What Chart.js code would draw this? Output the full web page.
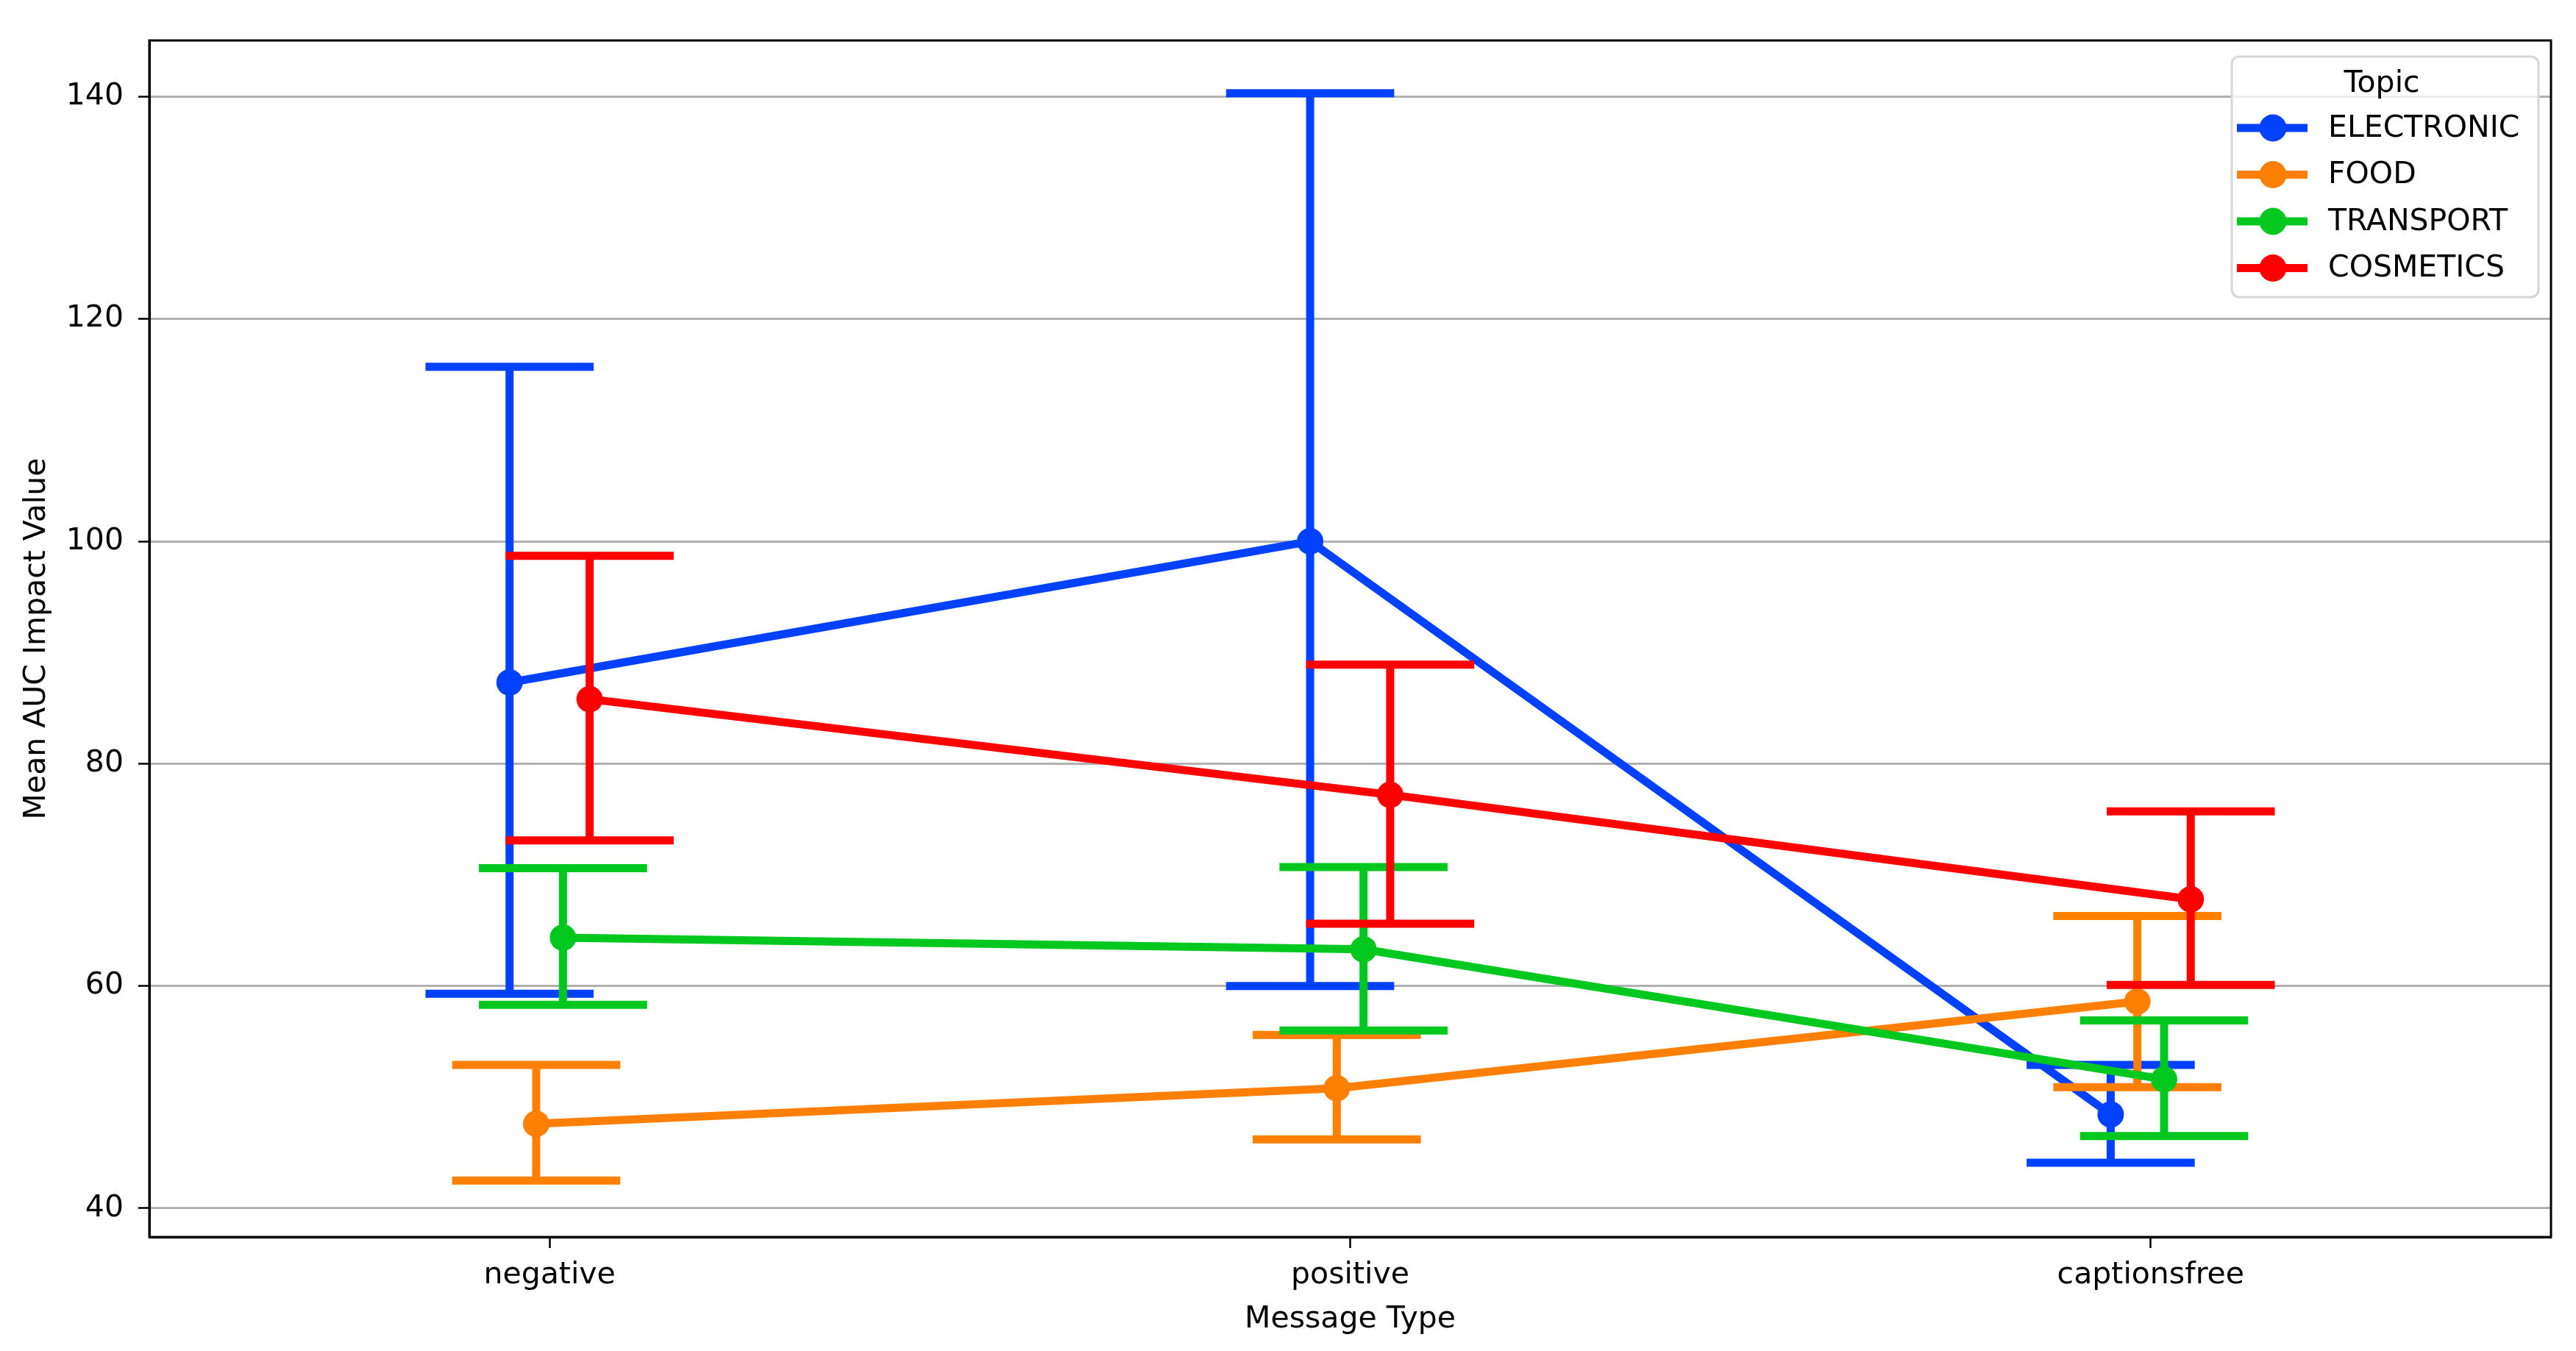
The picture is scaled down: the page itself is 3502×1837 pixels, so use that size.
<!DOCTYPE html>
<html>
<head>
<meta charset="utf-8">
<script src="https://cdn.jsdelivr.net/npm/chart.js@4.4.1/dist/chart.umd.min.js"></script>
<style>
  html, body { margin: 0; padding: 0; background: #fff; }
  canvas { display: block; }
</style>
</head>
<body>
<canvas id="chart" width="3502" height="1837"></canvas>
<script>
// --- Data ---
const categories = ['negative', 'positive', 'captionsfree'];
const topics = ['ELECTRONIC', 'FOOD', 'TRANSPORT', 'COSMETICS'];
const yTicks = [40, 60, 80, 100, 120, 140];

const electronicMean = [87.3, 100.0, 48.45];
const electronicLow = [59.3, 60.0, 44.1];
const electronicHigh = [115.7, 140.3, 52.9];

const foodMean = [47.6, 50.8, 58.6];
const foodLow = [42.5, 46.2, 50.9];
const foodHigh = [52.9, 55.6, 66.3];

const transportMean = [64.35, 63.3, 51.6];
const transportLow = [58.3, 56.0, 46.5];
const transportHigh = [70.6, 70.7, 56.9];

const cosmeticsMean = [85.8, 77.2, 67.8];
const cosmeticsLow = [73.1, 65.6, 60.1];
const cosmeticsHigh = [98.7, 88.9, 75.7];

// --- Styling ---
const COLORS = ['#0040ff', '#ff7f00', '#00c81e', '#ff0000'];
const DODGE = [-0.05, -0.0167, 0.0167, 0.05];
const CAP_HALF = 0.105;
const LINE_W = 11;
const FONT = { family: 'DejaVu Sans', size: 41 };

const means = [electronicMean, foodMean, transportMean, cosmeticsMean];
const lows = [electronicLow, foodLow, transportLow, cosmeticsLow];
const highs = [electronicHigh, foodHigh, transportHigh, cosmeticsHigh];

const datasets = topics.map((name, k) => ({
    label: name,
    data: means[k].map((v, i) => ({ x: i + DODGE[k], y: v })),
    ciLow: lows[k],
    ciHigh: highs[k],
    offset: DODGE[k],
    borderColor: COLORS[k],
    backgroundColor: COLORS[k],
    pointBackgroundColor: COLORS[k],
    pointBorderWidth: 0,
    pointRadius: 18,
    borderWidth: LINE_W,
    tension: 0,
    order: topics.length - k
}));

// error bars drawn just before each dataset's line
const errorBarPlugin = {
    id: 'errorBars',
    beforeDatasetDraw(chart, args) {
        const ds = chart.data.datasets[args.index];
        const xs = chart.scales.x, ys = chart.scales.y;
        const ctx = chart.ctx;
        ctx.save();
        ctx.strokeStyle = ds.borderColor;
        ctx.lineWidth = LINE_W;
        ctx.lineCap = 'butt';
        ds.ciLow.forEach((lo, i) => {
            const hi = ds.ciHigh[i];
            const xc = xs.getPixelForValue(i + ds.offset);
            const xl = xs.getPixelForValue(i + ds.offset - CAP_HALF);
            const xr = xs.getPixelForValue(i + ds.offset + CAP_HALF);
            const yl = ys.getPixelForValue(lo);
            const yh = ys.getPixelForValue(hi);
            ctx.beginPath();
            ctx.moveTo(xc, yl); ctx.lineTo(xc, yh);
            ctx.moveTo(xl, yl); ctx.lineTo(xr, yl);
            ctx.moveTo(xl, yh); ctx.lineTo(xr, yh);
            ctx.stroke();
        });
        ctx.restore();
    }
};

// frame + legend box in the upper right
const framePlugin = {
    id: 'frameLegend',
    afterDraw(chart) {
        const { ctx, chartArea: a } = chart;
        ctx.save();
        ctx.strokeStyle = '#000';
        ctx.lineWidth = 3;
        ctx.strokeRect(a.left, a.top, a.right - a.left, a.bottom - a.top);

        const bx = a.right - 434, by = a.top + 22, bw = 417, bh = 327;
        ctx.beginPath();
        ctx.roundRect(bx, by, bw, bh, 10);
        ctx.fillStyle = 'rgba(255,255,255,0.8)';
        ctx.fill();
        ctx.strokeStyle = '#d6d6d6';
        ctx.lineWidth = 3;
        ctx.stroke();

        ctx.fillStyle = '#000';
        ctx.font = `${FONT.size}px ${FONT.family}`;
        ctx.textBaseline = 'middle';
        ctx.textAlign = 'center';
        ctx.fillText('Topic', bx + 204, by + 37);
        ctx.textAlign = 'left';
        chart.data.datasets.forEach((ds, k) => {
            const y = by + 97 + k * 63.5;
            ctx.strokeStyle = ds.borderColor;
            ctx.lineWidth = LINE_W;
            ctx.beginPath();
            ctx.moveTo(bx + 7, y); ctx.lineTo(bx + 103, y);
            ctx.stroke();
            ctx.fillStyle = ds.borderColor;
            ctx.beginPath();
            ctx.arc(bx + 56, y, 18.5, 0, Math.PI * 2);
            ctx.fill();
            ctx.fillStyle = '#000';
            ctx.fillText(ds.label, bx + 131, y + 1);
        });
        ctx.restore();
    }
};

new Chart(document.getElementById('chart'), {
    type: 'line',
    data: { datasets },
    options: {
        responsive: false,
        devicePixelRatio: 1,
        animation: false,
        events: [],
        layout: { padding: { top: 55, right: 34, left: 0, bottom: 0 } },
        plugins: { legend: { display: false }, tooltip: { enabled: false } },
        scales: {
            x: {
                type: 'linear',
                min: -0.5,
                max: 2.5,
                afterBuildTicks: s => { s.ticks = categories.map((c, i) => ({ value: i })); },
                afterFit: s => { s.height = 1837 - 1682; },
                ticks: {
                    callback: v => categories[v],
                    font: FONT, color: '#000', padding: 13, maxRotation: 0, autoSkip: false
                },
                grid: { drawOnChartArea: false, tickLength: 15, tickColor: '#000', tickWidth: 2.5 },
                border: { color: '#000', width: 3 },
                title: { display: true, text: 'Message Type', font: FONT, color: '#000', padding: { top: 0, bottom: 18 } }
            },
            y: {
                min: 37.42,
                max: 145.05,
                afterBuildTicks: s => { s.ticks = yTicks.map(v => ({ value: v })); },
                afterFit: s => { s.width = 203; },
                ticks: { font: FONT, color: '#000', padding: 20 },
                grid: { color: '#b0b0b0', lineWidth: 3, tickLength: 15, tickColor: '#000', tickWidth: 2.5 },
                border: { color: '#000', width: 3 },
                title: { display: true, text: 'Mean AUC Impact Value', font: FONT, color: '#000', padding: { top: 26, bottom: 0 } }
            }
        }
    },
    plugins: [errorBarPlugin, framePlugin]
});
</script>
</body>
</html>
